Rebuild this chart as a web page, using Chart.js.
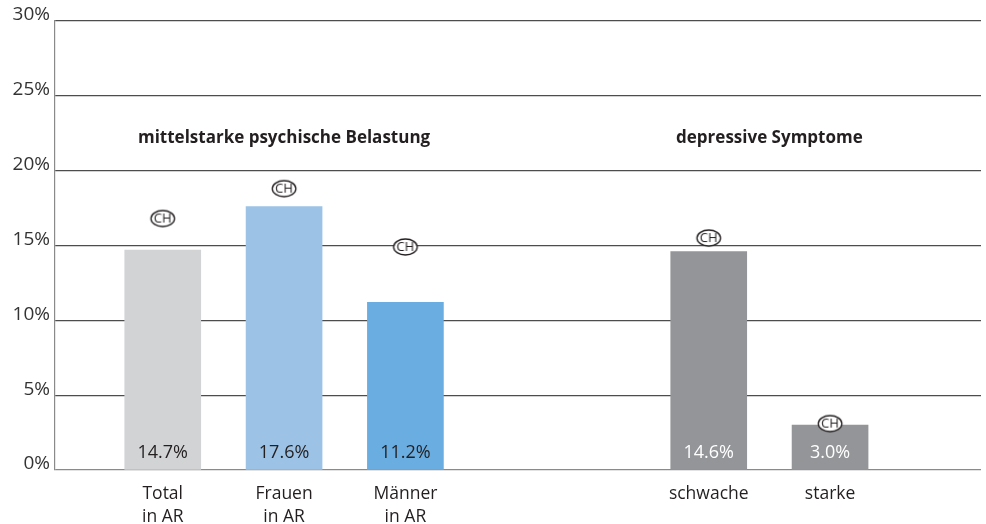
<!DOCTYPE html>
<html>
<head>
<meta charset="utf-8">
<script src="https://cdn.jsdelivr.net/npm/chart.js@4"></script>
<style>
  body { margin: 0; background: #fff; }
  #wrap { width: 986px; height: 524px; position: relative; }
</style>
</head>
<body>
<div id="wrap"><canvas id="chart"></canvas></div>
<script>
// data
var groups = ['mittelstarke psychische Belastung', 'depressive Symptome'];
var labels = [['Total', 'in AR'], ['Frauen', 'in AR'], ['Männer', 'in AR'], ['schwache'], ['starke']];
var groupOf = [0, 0, 0, 1, 1];
var values = [14.7, 17.6, 11.2, 14.6, 3.0];
var chValues = [16.8, 18.8, 14.9, 15.5, 3.1];
var yTicks = [0, 5, 10, 15, 20, 25, 30];

var colors = ['#d1d3d4', '#9cc3e6', '#6aade0', '#939598', '#939598'];
var valueColors = ['#231f20', '#231f20', '#231f20', '#ffffff', '#ffffff'];
var FONT = "'Open Sans', sans-serif";

// x positions: one unit per bar, two and a half units between groups
var xPos = [];
var pos = 0;
for (var i = 0; i < values.length; i++) {
  if (i > 0) pos += (groupOf[i] !== groupOf[i - 1]) ? 2.5 : 1;
  xPos.push(pos);
}

// the little circled "CH" marker
function makeCH() {
  var c = document.createElement('canvas');
  c.width = 28; c.height = 20;
  var g = c.getContext('2d');
  g.beginPath();
  g.ellipse(14, 10, 11.8, 8, 0, 0, Math.PI * 2);
  g.fillStyle = '#fff';
  g.fill();
  g.lineWidth = 1.3;
  g.strokeStyle = '#231f20';
  g.stroke();
  g.fillStyle = '#231f20';
  g.font = '13px ' + FONT;
  g.textAlign = 'center';
  g.textBaseline = 'middle';
  g.fillText('CH', 14, 10.5);
  return c;
}

var extras = {
  id: 'extras',
  afterDatasetsDraw: function (chart) {
    var ctx = chart.ctx;
    var x = chart.scales.x, y = chart.scales.y;
    ctx.save();
    // values inside the bars
    ctx.font = '18px ' + FONT;
    ctx.textAlign = 'center';
    ctx.textBaseline = 'middle';
    values.forEach(function (v, i) {
      ctx.fillStyle = valueColors[i];
      ctx.fillText(v.toFixed(1) + '%', x.getPixelForValue(xPos[i]), y.bottom - 17);
    });
    // group titles
    ctx.font = 'bold 17px ' + FONT;
    ctx.fillStyle = '#231f20';
    groups.forEach(function (t, gi) {
      var xs = xPos.filter(function (p, i) { return groupOf[i] === gi; });
      var mid = (xs[0] + xs[xs.length - 1]) / 2;
      ctx.fillText(t, x.getPixelForValue(mid), y.getPixelForValue(22.15));
    });
    ctx.restore();
  }
};

var ctx = document.getElementById('chart').getContext('2d');
var myChart = new Chart(ctx, {
  type: 'bar',
  data: {
    datasets: [
      {
        type: 'scatter',
        data: xPos.map(function (p, i) { return { x: p, y: chValues[i] }; }),
        pointStyle: makeCH(),
        order: 0
      },
      {
        data: xPos.map(function (p, i) { return { x: p, y: values[i] }; }),
        backgroundColor: colors,
        barThickness: 76,
        order: 1
      }
    ]
  },
  options: {
    animation: false,
    responsive: true,
    maintainAspectRatio: false,
    layout: { padding: { top: 21, right: 3, left: 0, bottom: 0 } },
    plugins: {
      legend: { display: false },
      tooltip: { enabled: false }
    },
    scales: {
      x: {
        type: 'linear',
        offset: false,
        min: -0.888,
        max: 6.744,
        grid: { display: false },
        border: { display: false },
        afterBuildTicks: function (scale) {
          scale.ticks = xPos.map(function (p) { return { value: p }; });
        },
        afterFit: function (scale) { scale.height = 54; },
        ticks: {
          autoSkip: false,
          maxRotation: 0,
          padding: 4,
          color: '#231f20',
          font: { family: FONT, size: 17.5, lineHeight: 1.32 },
          callback: function (v, i) { return labels[i]; }
        }
      },
      y: {
        min: 0,
        max: 30,
        afterBuildTicks: function (scale) {
          scale.ticks = yTicks.map(function (v) { return { value: v }; });
        },
        afterFit: function (scale) { scale.width = 55; },
        grid: {
          drawTicks: false,
          color: function (c) { return c.tick && c.tick.value === 0 ? '#8a8a8a' : '#4d4d4d'; },
          lineWidth: 1.2
        },
        border: { color: '#8a8a8a', width: 1.2 },
        ticks: {
          padding: 5,
          labelOffset: -6,
          color: '#333',
          font: { family: FONT, size: 19 },
          callback: function (v) { return v + '%'; }
        }
      }
    }
  },
  plugins: [extras]
});
</script>
</body>
</html>
